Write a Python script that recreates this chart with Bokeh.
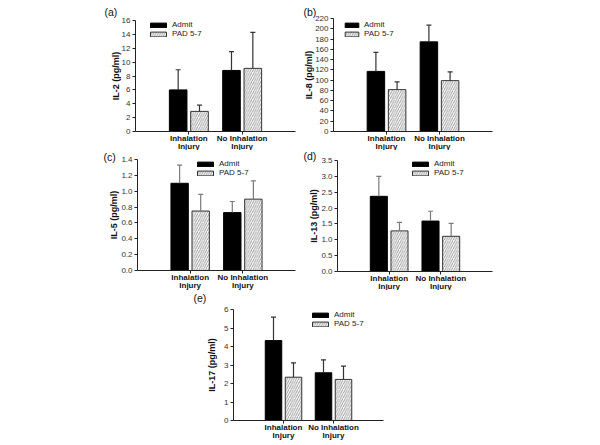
import math
from bokeh.plotting import figure
from bokeh.models import (ColumnDataSource, FixedTicker, Label, Legend, LegendItem,
                          Whisker, TeeHead, NumeralTickFormatter, Spacer, Range1d)
from bokeh.layouts import row, column
from bokeh.embed import file_html
from bokeh.resources import INLINE

# ---------------- data ----------------
groups = ["Inhalation\nInjury", "No Inhalation\nInjury"]
series = ["Admit", "PAD 5-7"]

il2_admit = [6.0, 8.8]
il2_admit_upper = [8.9, 11.5]
il2_pad = [2.9, 9.1]
il2_pad_upper = [3.8, 14.3]
il2_ticks = [0, 2, 4, 6, 8, 10, 12, 14, 16]

il8_admit = [117, 174.5]
il8_admit_upper = [154, 207]
il8_pad = [81.5, 99]
il8_pad_upper = [96.5, 116]
il8_ticks = [0, 20, 40, 60, 80, 100, 120, 140, 160, 180, 200, 220]

il5_admit = [1.10, 0.73]
il5_admit_upper = [1.33, 0.87]
il5_pad = [0.75, 0.90]
il5_pad_upper = [0.96, 1.13]
il5_ticks = [0.0, 0.2, 0.4, 0.6, 0.8, 1.0, 1.2, 1.4]

il13_admit = [2.37, 1.59]
il13_admit_upper = [3.0, 1.9]
il13_pad = [1.28, 1.11]
il13_pad_upper = [1.55, 1.52]
il13_ticks = [0.0, 0.5, 1.0, 1.5, 2.0, 2.5, 3.0, 3.5]

il17_admit = [4.32, 2.58]
il17_admit_upper = [5.59, 3.28]
il17_pad = [2.34, 2.22]
il17_pad_upper = [3.12, 2.94]
il17_ticks = [0, 1, 2, 3, 4, 5, 6]

FONT = "Liberation Sans"
LEG_ITEM_H = 9


def make_panel(tag, ylabel, ticks, fmt, admit, admit_up, pad, pad_up,
               fig_box, axis_box, legend_xy, glyph_w, err_color, ylab_x,
               tag_xy, cat_dy=(6.5, 14.5)):
    fl, ft, fr, fb = fig_box          # figure edges (page px)
    xl, xt, xr, xb = axis_box         # where x=0, y=max, x=3, y=0 fall (page px)
    ymax = ticks[-1]
    ppx = (xr - xl) / 3.0
    ppy = (xb - xt) / float(ymax - ticks[0])
    x_range = Range1d(-(xl - fl) / ppx, 3 + (fr - xr) / ppx)
    y_range = Range1d(ticks[0] - (fb - xb) / ppy, ymax + (xt - ft) / ppy)

    p = figure(width=fr - fl, height=fb - ft, x_range=x_range, y_range=y_range,
               output_backend="svg", toolbar_location=None, title=None,
               min_border_left=0, min_border_right=0,
               min_border_top=0, min_border_bottom=0)
    p.outline_line_color = None
    p.grid.visible = False
    p.background_fill_color = "white"
    p.border_fill_color = "white"

    gx = [i + 1 for i in range(len(groups))]
    xa = [g - 0.2 for g in gx]
    xp = [g + 0.2 for g in gx]
    src_a = ColumnDataSource(dict(x=xa, top=admit, up=admit_up))
    src_p = ColumnDataSource(dict(x=xp, top=pad, up=pad_up))

    ra = p.vbar(x="x", top="top", width=0.33, source=src_a,
                fill_color="black", line_color="black", line_width=1)
    rp = p.vbar(x="x", top="top", width=0.33, source=src_p,
                fill_color="white", line_color="#333333", line_width=1,
                hatch_pattern="right_diagonal_line", hatch_color="#8c8c8c",
                hatch_scale=4.5, hatch_weight=0.9)

    for src in (src_a, src_p):
        w = Whisker(base="x", lower="top", upper="up", source=src,
                    line_color=err_color, line_width=1.2,
                    upper_head=TeeHead(size=5, line_color=err_color, line_width=1.2),
                    lower_head=None, level="overlay")
        p.add_layout(w)

    # axes placed at the data origin, limited to the data extent
    ya = p.yaxis[0]
    ya.fixed_location = 0
    ya.bounds = (ticks[0], ymax)
    ya.ticker = FixedTicker(ticks=ticks)
    if fmt:
        ya.formatter = NumeralTickFormatter(format=fmt)
    xa_ax = p.xaxis[0]
    xa_ax.fixed_location = ticks[0]
    xa_ax.bounds = (0, 3)
    for ax in (xa_ax, ya):
        ax.axis_line_color = "#222222"
        ax.axis_line_width = 1
        ax.major_tick_line_color = "#222222"
        ax.major_tick_out = 3
        ax.major_tick_in = 0
        ax.minor_tick_line_color = None
        ax.major_label_text_font = FONT
        ax.major_label_text_font_size = "8px"
        ax.major_label_text_color = "#333333"
        ax.major_label_standoff = 2
    xa_ax.ticker = FixedTicker(ticks=gx)
    xa_ax.major_label_overrides = {g: "" for g in gx}

    # y axis title
    p.add_layout(Label(x=ylab_x - fl, x_units="screen", y=fb - (xt + xb) / 2.0, y_units="screen",
                       text=ylabel, angle=math.pi / 2, text_align="center",
                       text_baseline="middle", text_font=FONT, text_font_size="9px",
                       text_font_style="bold", text_color="#111111"))

    # category labels (two lines each)
    for g, lab in zip(gx, groups):
        for k, line in enumerate(lab.split("\n")):
            p.add_layout(Label(x=g, x_units="data", y=(fb - xb) - cat_dy[k], y_units="screen",
                               text=line, text_align="center", text_baseline="middle",
                               text_font=FONT, text_font_size="8px",
                               text_font_style="bold", text_color="#111111"))

    # panel tag
    p.add_layout(Label(x=tag_xy[0] - fl, x_units="screen", y=fb - tag_xy[1], y_units="screen",
                       text=tag, text_align="left", text_baseline="middle",
                       text_font=FONT, text_font_size="10.5px", text_color="#111111"))

    leg = Legend(items=[LegendItem(label=series[0], renderers=[ra]),
                        LegendItem(label=series[1], renderers=[rp])],
                 location=(legend_xy[0] - fl, fb - legend_xy[1] - 2 * LEG_ITEM_H),
                 glyph_width=glyph_w, glyph_height=6, label_height=LEG_ITEM_H, spacing=0,
                 padding=0, margin=0, border_line_color=None,
                 background_fill_alpha=0, label_standoff=4,
                 label_text_font=FONT, label_text_font_size="8px",
                 label_text_color="#222222", label_text_baseline="middle")
    p.add_layout(leg)
    return p


pa = make_panel("(a)", "IL-2 (pg/ml)", il2_ticks, None,
                il2_admit, il2_admit_upper, il2_pad, il2_pad_upper,
                (0, 0, 300, 150), (135, 20, 295, 131), (148, 20), 20, "#333333", 115, (104, 11.5))
pb = make_panel("(b)", "IL-8 (pg/ml)", il8_ticks, None,
                il8_admit, il8_admit_upper, il8_pad, il8_pad_upper,
                (300, 0, 510, 150), (333, 18, 492, 131), (343, 20), 17, "#333333", 308, (303, 11.5))
pc = make_panel("(c)", "IL-5 (pg/ml)", il5_ticks, "0.0",
                il5_admit, il5_admit_upper, il5_pad, il5_pad_upper,
                (0, 150, 300, 290), (137, 159, 295, 270), (195, 159), 20, "#7a7a7a", 113.5, (103, 156))
pd_ = make_panel("(d)", "IL-13 (pg/ml)", il13_ticks, "0.0",
                 il13_admit, il13_admit_upper, il13_pad, il13_pad_upper,
                 (300, 150, 510, 290), (337, 160, 492, 271), (410, 159), 20, "#7a7a7a", 313.5, (303, 155))
pe = make_panel("(e)", "IL-17 (pg/ml)", il17_ticks, None,
                il17_admit, il17_admit_upper, il17_pad, il17_pad_upper,
                (190, 290, 420, 445), (233, 309, 383, 420), (310, 310), 20, "#333333", 211.5, (193, 297))

layout = column(row(pa, pb), row(pc, pd_), row(Spacer(width=190, height=155), pe))

open("out.html", "w").write(file_html(layout, INLINE))
